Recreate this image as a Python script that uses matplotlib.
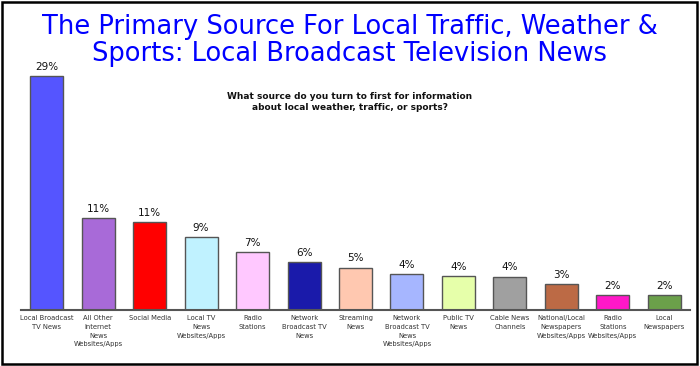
import matplotlib
matplotlib.use("Agg")
import matplotlib.pyplot as plt
from matplotlib.patches import Rectangle

# Data
categories = [
    "Local Broadcast\nTV News",
    "All Other\nInternet\nNews\nWebsites/Apps",
    "Social Media",
    "Local TV\nNews\nWebsites/Apps",
    "Radio\nStations",
    "Network\nBroadcast TV\nNews",
    "Streaming\nNews",
    "Network\nBroadcast TV\nNews\nWebsites/Apps",
    "Public TV\nNews",
    "Cable News\nChannels",
    "National/Local\nNewspapers\nWebsites/Apps",
    "Radio\nStations\nWebsites/Apps",
    "Local\nNewspapers",
]
values = [29.0, 11.4, 10.9, 9.0, 7.1, 5.9, 5.2, 4.4, 4.2, 4.1, 3.2, 1.8, 1.8]
labels = ["29%", "11%", "11%", "9%", "7%", "6%", "5%", "4%", "4%", "4%", "3%", "2%", "2%"]
colors = ["#5555FF", "#A86AD8", "#FF0000", "#C0F2FF", "#FFC8FF", "#1A1AAA",
          "#FFC8B0", "#A6B6FF", "#E6FFAA", "#A0A0A0", "#BC6A45", "#FF18C8", "#6BA04A"]

title_lines = ["The Primary Source For Local Traffic, Weather &",
               "Sports: Local Broadcast Television News"]
question = "What source do you turn to first for information\nabout local weather, traffic, or sports?"

plt.rcParams["font.family"] = ["DejaVu Sans"]

fig = plt.figure(figsize=(7, 3.66), dpi=100)
ax = fig.add_axes([21 / 700, 56.5 / 366, 669 / 700, 249.5 / 366])

x = range(len(values))
ax.bar(x, values, width=0.64, color=colors, edgecolor="#555555", linewidth=1.0)
for i, (v, lab) in enumerate(zip(values, labels)):
    ax.annotate(lab, (i, v), xytext=(0, 3), textcoords="offset points",
                ha="center", va="bottom", fontsize=7.5, color="#111111")

ax.set_xlim(-0.5, len(values) - 0.5)
ax.set_ylim(0, 31.0)
ax.set_xticks(list(x))
ax.set_xticklabels(categories, fontsize=4.9, color="#333333", linespacing=1.55)
ax.tick_params(axis="x", length=0, pad=4)
ax.set_yticks([])
for s in ["left", "right", "top"]:
    ax.spines[s].set_visible(False)
ax.spines["bottom"].set_color("#555555")
ax.spines["bottom"].set_linewidth(1.5)

# title as two separate lines
fig.text(0.5, 1 - 27 / 366, title_lines[0], ha="center", va="center",
         fontsize=18.5, color="#0000FF")
fig.text(0.5, 1 - 54 / 366, title_lines[1], ha="center", va="center",
         fontsize=18.5, color="#0000FF")
fig.text(0.5, 1 - 102 / 366, question, ha="center", va="center", fontsize=6.5,
         fontweight="bold", color="#111111", linespacing=1.25)

fig.patches.append(Rectangle((0.003, 0.006), 0.992, 0.988, transform=fig.transFigure,
                             fill=False, edgecolor="black", linewidth=1.8))

fig.savefig("out.png", dpi=100)
